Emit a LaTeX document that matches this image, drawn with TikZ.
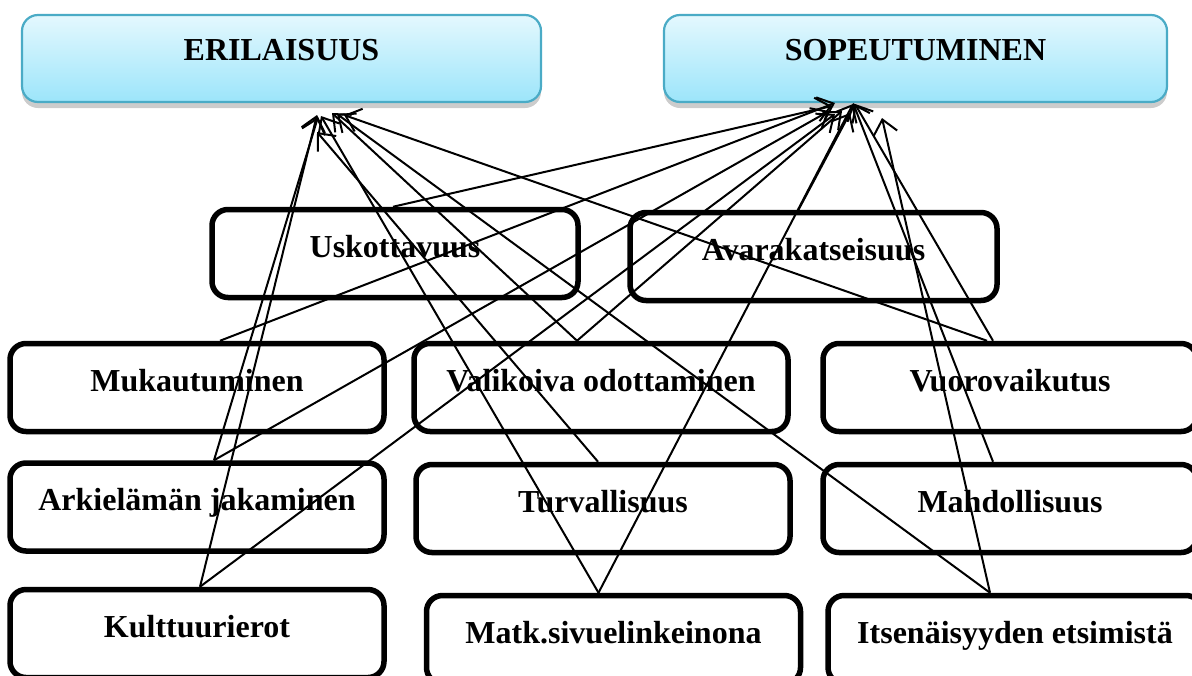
\documentclass[tikz,border=0pt]{standalone}
\usepackage{fontspec}
\setmainfont{Liberation Serif}
\usetikzlibrary{arrows.meta,calc,shadows}
\definecolor{headtop}{HTML}{E4F8FE}
\definecolor{headbot}{HTML}{9CE5FA}
\definecolor{headline}{HTML}{4AABC6}
\begin{document}
\begin{tikzpicture}[x=.5pt, y=-.5pt,
	head/.style={draw=headline, line width=1.1pt, rounded corners=8pt, top color=headtop, bottom color=headbot,
		minimum height=43.5pt, text height=10pt, text depth=8.4pt, font=\bfseries\fontsize{16}{19}\selectfont,
		drop shadow={shadow xshift=0pt, shadow yshift=-3pt, opacity=.4}},
	item/.style={draw, line width=2.75pt, rounded corners=8pt, minimum width=187pt, minimum height=44pt,
		text height=11pt, text depth=7.4pt, font=\bfseries\fontsize{16}{19}\selectfont},
	link/.style={line width=1pt, -{Straight Barb[length=7pt,width=12pt]}}]
	\useasboundingbox (0,0) rectangle (1192,675);
	\clip (0,0) rectangle (1192,675);
	\node[head, minimum width=259.5pt] (eri) at (281.5,58.5)   {ERILAISUUS};
	\node[head, minimum width=251.5pt] (sop) at (915.5,58.5)   {SOPEUTUMINEN};
	\node[item, minimum width=183pt]   (usk) at (395,253.5)    {Uskottavuus};
	\node[item, minimum width=183.5pt] (ava) at (813.5,256.5)  {Avarakatseisuus};
	\node[item] (muk) at (197,387.5)   {Mukautuminen};
	\node[item] (val) at (601,387.5)   {Valikoiva odottaminen};
	\node[item] (vuo) at (1010,387.5)  {Vuorovaikutus};
	\node[item] (ark) at (197,507)     {Arkielämän jakaminen};
	\node[item] (tur) at (603,508.5)   {Turvallisuus};
	\node[item] (mah) at (1010,508.5)  {Mahdollisuus};
	\node[item] (kul) at (197,633.5)   {Kulttuurierot};
	\node[item] (mat) at (613.5,639.5) {Matk.sivuelinkeinona};
	\node[item] (its) at (1015,639.5)  {Itsenäisyyden etsimistä};
	\coordinate (e1) at (317,115);
	\coordinate (e2) at (318,117);
	\coordinate (e3) at (317,132);
	\coordinate (e4) at (321,116);
	\coordinate (e5) at (332,113);
	\coordinate (e6) at (344,115);
	\coordinate (e7) at (337,114);
	\coordinate (s1) at (835,103);
	\coordinate (s2) at (832,106);
	\coordinate (s3) at (829,111);
	\coordinate (s4) at (835,114);
	\coordinate (s5) at (842,111);
	\coordinate (s6) at (850,113);
	\coordinate (s7) at (853,104);
	\coordinate (s8) at (855,104);
	\coordinate (s9) at (853,103);
	\coordinate (s10) at (882,118);
	\draw[link] ($(kul.north)+(3,0)$)   -- (e1);
	\draw[link] ($(kul.north)+(3,0)$)   -- (s4);
	\draw[link] ($(ark.north)+(17,0)$)  -- (e2);
	\draw[link] ($(ark.north)+(17,0)$)  -- (s3);
	\draw[link] ($(muk.north)+(23,0)$)  -- (s1);
	\draw[link] ($(usk.north)+(-2,0)$)  -- (s2);
	\draw[link] ($(ava.north)+(-15,0)$) -- (s6);
	\draw[link] ($(val.north)+(-24,0)$) -- (e5);
	\draw[link] ($(val.north)+(-24,0)$) -- (s5);
	\draw[link] ($(tur.north)+(-5,0)$)  -- (e3);
	\draw[link] ($(mat.north)+(-15,0)$) -- (e4);
	\draw[link] ($(mat.north)+(-15,0)$) -- (s7);
	\draw[link] ($(vuo.north)+(-23,0)$) -- (e6);
	\draw[link] ($(vuo.north)+(-17,0)$) -- (s8);
	\draw[link] ($(mah.north)+(-17,0)$) -- (s9);
	\draw[link] ($(its.north)+(-25,0)$) -- (e7);
	\draw[link] ($(its.north)+(-25,0)$) -- (s10);
\end{tikzpicture}
\end{document}
